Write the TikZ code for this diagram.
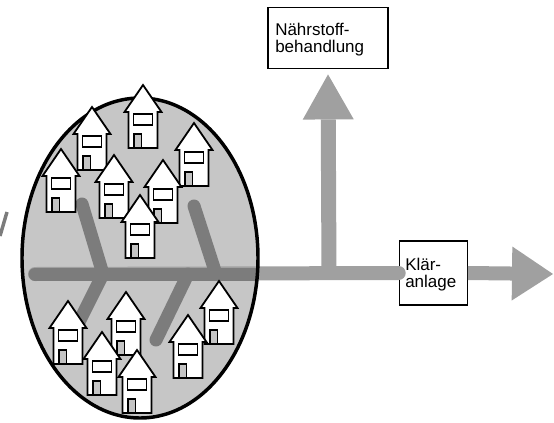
\documentclass[tikz,border=0pt]{standalone}
\usepackage{fontspec}
\setmainfont{Liberation Sans}
\usetikzlibrary{arrows.meta,shapes.geometric}
\definecolor{fieldgray}{HTML}{C6C6C6}
\definecolor{flowgray}{HTML}{A0A0A0}
\definecolor{pipegray}{HTML}{7C7C7C}
\definecolor{doorgray}{HTML}{C4C4C4}
\tikzset{
  houseline/.style={line width=1.35pt, line join=miter},
  house/.pic={
    \draw[houseline, fill=white] (0,0) -- (18.5,27) -- (14.5,27) -- (14.5,63)
      -- (-14.5,63) -- (-14.5,27) -- (-18.5,27) -- cycle;
    \draw[houseline, fill=white] (-9.5,29) rectangle (9.5,40);
    \draw[houseline, line width=1.1pt, fill=doorgray] (-9,49) rectangle (-1.5,63);
  },
  flow/.style={line width=10.5pt, draw=flowgray},
  pipe/.style={line width=9.75pt, draw=pipegray, line cap=round},
  labelbox/.style={draw, line width=0.9pt, fill=white, inner sep=0pt},
  labeltext/.style={font=\fontsize{12.75}{12.9}\selectfont, align=left,
    inner sep=0pt, anchor=north west},
}
\begin{document}
\begin{tikzpicture}[x=0.75pt,y=-0.75pt]
\useasboundingbox (0,0) rectangle (554,422);

% settlement area
\node[ellipse, fill=fieldgray, minimum width=177pt, minimum height=240pt,
      inner sep=0pt] (siedlung) at (140,258) {};

% label boxes
\node[labelbox, minimum width=90pt, minimum height=45.75pt] (naehr) at (328,38) {};
\node[labeltext] (naehrtext) at (275,23) {Nährstoff-\\behandlung};
\node[labelbox, minimum width=51pt, minimum height=48pt] (klaer) at (433.3,273) {};
\node[labeltext] (klaertext) at (405,258) {Klär-\\anlage};

% flow arrows
\coordinate (spinestart) at (35,274);
\coordinate (junction) at (329,274);
\coordinate (outflow) at (553,274);
\draw[flow, line cap=round] (spinestart) -- (klaer.west);
\draw[flow, -{Triangle[width=40.5pt, length=30.75pt, line width=0pt]}]
  (klaer.east) -- (outflow);
\draw[flow, line width=11.25pt, shorten >=4pt,
      -{Triangle[width=38.25pt, length=33.75pt, line width=0pt]}]
  (junction) -- (naehr.south);

% sewer branches inside the settlement
\coordinate (b1top) at (82,204);  \coordinate (b1foot) at (103,274);
\coordinate (b2top) at (194,206); \coordinate (b2foot) at (216,274);
\coordinate (b3end) at (79,322);  \coordinate (b3foot) at (103,274);
\coordinate (b4end) at (156,340); \coordinate (b4foot) at (188,274);
\begin{scope}
  \clip (siedlung.center) ellipse [x radius=88.5pt, y radius=120pt];
  \draw[pipe] (spinestart) -- (junction);
  \draw[pipe] (b1top) -- (b1foot);
  \draw[pipe] (b2top) -- (b2foot);
  \draw[pipe] (b3foot) -- (b3end);
  \draw[pipe] (b4foot) -- (b4end);
\end{scope}

% settlement outline
\node[ellipse, draw, line width=2.6pt, minimum width=177pt, minimum height=240pt,
      inner sep=0pt] (siedlungrand) at (siedlung.center) {};

% houses
\foreach \hx/\hy in {143/85, 92/107, 194/123, 61/149, 114/155, 163/160, 140/195,
                     219/281, 126/292, 68/301, 188/315, 102/332, 137/350}
  \pic at (\hx,\hy) {house};

% stroke at the left edge
\draw[line width=2.6pt, draw=pipegray] (7,212) -- (0,236);
\end{tikzpicture}
\end{document}
